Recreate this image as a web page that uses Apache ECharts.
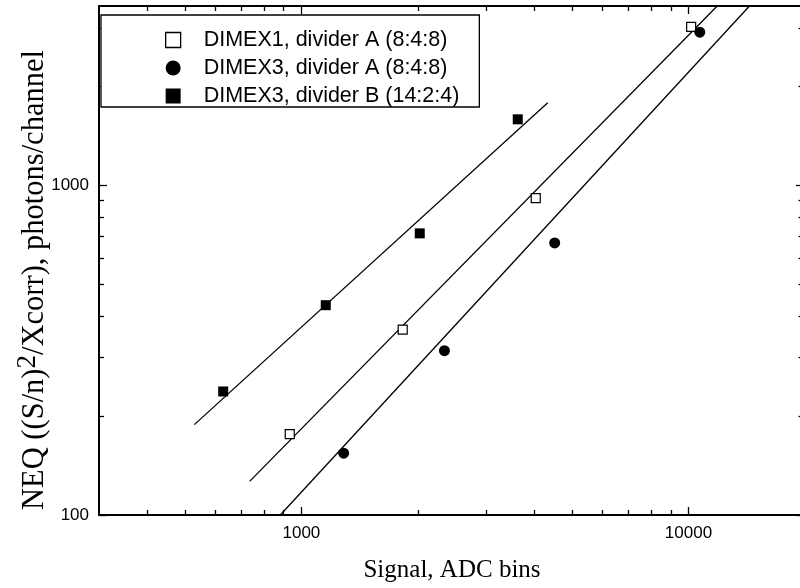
<!DOCTYPE html>
<html>
<head>
<meta charset="utf-8">
<script src="https://cdn.jsdelivr.net/npm/echarts@6/dist/echarts.min.js"></script>
<style>
  html, body { margin: 0; padding: 0; background: #fff; overflow: hidden; }
  /* the frame's right edge sits just past the visible area */
  #chart { width: 812px; height: 588px; }
</style>
</head>
<body>
<div id="chart"></div>
<script>
// Tick positions on the logarithmic axes
const xMajorTicks = [1000, 10000];
const xMinorTicks = [400, 500, 600, 700, 800, 900, 2000, 3000, 4000, 5000, 6000, 7000, 8000, 9000];
const yMajorTicks = [100, 1000];
const yMinorTicks = [200, 300, 400, 500, 600, 700, 800, 900, 2000, 3000];

// Measured points: [signal (ADC bins), NEQ (photons/channel)]
const seriesNames = [
  'DIMEX1, divider A (8:4:8)',
  'DIMEX3, divider A (8:4:8)',
  'DIMEX3, divider B (14:2:4)'
];
const dimex1A = [[933, 176], [1827, 365], [4031, 915], [10160, 3024]];
const dimex3A = [[1286, 154], [2342, 315], [4512, 669], [10695, 2914]];
const dimex3B = [[628, 237], [1156, 433], [2022, 715], [3622, 1586]];

// Fitted power-law lines, given by their end points
const fitDimex1A = [[735, 126.5], [11865, 3500]];
const fitDimex3A = [[882, 100], [14376, 3500]];
const fitDimex3B = [[529, 188], [4329, 1781]];

const X_MIN = 300, X_MAX = 20000;
const Y_MIN = 100, Y_MAX = 3500;

const labelFont = { fontFamily: 'Liberation Sans', fontSize: 17, color: '#000' };

function logAxis(dim, position, ticks, tickLen, withLine, withLabels) {
  const isX = dim === 'x';
  return {
    type: 'log',
    logBase: 10,
    position: position,
    min: isX ? X_MIN : Y_MIN,
    max: isX ? X_MAX : Y_MAX,
    axisLine: { show: withLine, onZero: false, lineStyle: { color: '#000', width: 2 } },
    axisTick: {
      show: true, inside: true, length: tickLen,
      customValues: ticks,
      lineStyle: { color: '#000', width: 1.3 }
    },
    axisLabel: withLabels ? Object.assign({
      show: true, margin: 10,
      customValues: ticks,
      formatter: v => String(Math.round(v))
    }, labelFont) : { show: false },
    splitLine: { show: false },
    minorTick: { show: false },
    minorSplitLine: { show: false }
  };
}

const xAxes = [
  Object.assign(logAxis('x', 'bottom', xMajorTicks, 8, true, true), {
    name: 'Signal, ADC bins',
    nameLocation: 'middle',
    nameGap: 43,
    nameTextStyle: { fontFamily: 'Liberation Serif', fontSize: 25, color: '#000' }
  }),
  logAxis('x', 'bottom', xMinorTicks, 5, false, false),
  logAxis('x', 'top', xMajorTicks, 8, true, false),
  logAxis('x', 'top', xMinorTicks, 5, false, false)
];
const yAxes = [
  logAxis('y', 'left', yMajorTicks, 8, true, true),
  logAxis('y', 'left', yMinorTicks, 5, false, false),
  logAxis('y', 'right', yMajorTicks, 9, true, false),
  logAxis('y', 'right', yMinorTicks, 6.5, false, false)
];

function fitLine(data) {
  return {
    type: 'line', data: data, symbol: 'none', silent: true,
    lineStyle: { color: '#000', width: 1.3 },
    clip: true, z: 1
  };
}

const option = {
  backgroundColor: '#fff',
  animation: false,
  grid: { left: 99, top: 6, width: 706, height: 510, containLabel: false },
  xAxis: xAxes,
  yAxis: yAxes,
  legend: {
    orient: 'vertical',
    left: 101, top: 15,
    padding: [14, 20, 0, 64],
    itemWidth: 15, itemHeight: 15, itemGap: 6,
    borderColor: '#000', borderWidth: 1.3,
    backgroundColor: '#fff',
    textStyle: { fontFamily: 'Liberation Sans', fontSize: 21.5, color: '#000', lineHeight: 20, padding: [0, 0, 0, 18] },
    data: [
      { name: seriesNames[0], icon: 'rect', itemStyle: { color: '#fff', borderColor: '#000', borderWidth: 1.3 } },
      { name: seriesNames[1], icon: 'circle', itemStyle: { color: '#000' } },
      { name: seriesNames[2], icon: 'rect', itemStyle: { color: '#000' } }
    ]
  },
  graphic: [{
    type: 'text',
    x: 35, y: 280,
    rotation: Math.PI / 2,
    style: {
      text: '{a|NEQ ((S/n)}{s|2}{a|/Xcorr), photons/channel}',
      align: 'center', verticalAlign: 'middle',
      rich: {
        a: { fontFamily: 'Liberation Serif', fontSize: 30.5, lineHeight: 42, verticalAlign: 'middle', fill: '#000' },
        s: { fontFamily: 'Liberation Serif', fontSize: 27, lineHeight: 16, verticalAlign: 'top', fill: '#000' }
      }
    }
  }],
  series: [
    fitLine(fitDimex1A),
    fitLine(fitDimex3A),
    fitLine(fitDimex3B),
    {
      name: seriesNames[0], type: 'scatter', data: dimex1A,
      symbol: 'rect', symbolSize: 9, z: 3,
      itemStyle: { color: '#fff', borderColor: '#000', borderWidth: 1.2, opacity: 1 }
    },
    {
      name: seriesNames[1], type: 'scatter', data: dimex3A,
      symbol: 'circle', symbolSize: 11, z: 3,
      itemStyle: { color: '#000', opacity: 1 }
    },
    {
      name: seriesNames[2], type: 'scatter', data: dimex3B,
      symbol: 'rect', symbolSize: 10, z: 3,
      itemStyle: { color: '#000', opacity: 1 }
    }
  ]
};

const chart = echarts.init(document.getElementById('chart'), null, { renderer: 'canvas' });
chart.setOption(option);
</script>
</body>
</html>
